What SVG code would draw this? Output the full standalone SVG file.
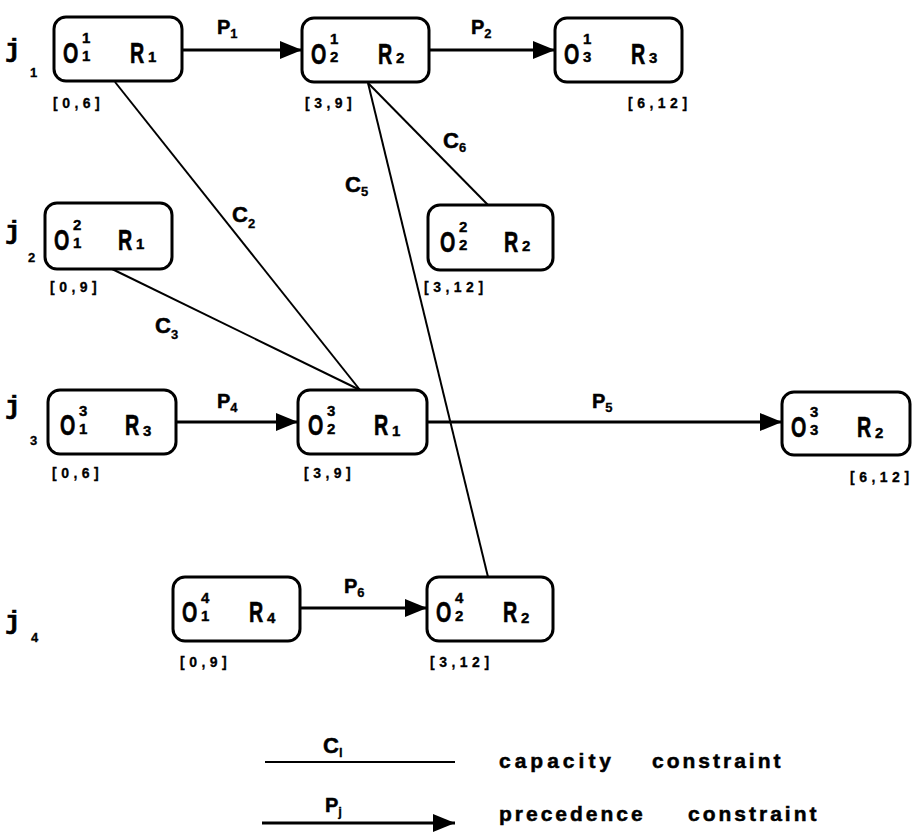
<svg xmlns="http://www.w3.org/2000/svg" width="917" height="833" viewBox="0 0 917 833">
<defs>
<style>
.box{fill:#fff;stroke:#000;stroke-width:3}
.big{font-family:"Liberation Sans",Arial,sans-serif;font-weight:bold;font-size:29px;fill:#000;stroke:#000;stroke-width:0.6}
.sm{font-family:"Liberation Sans",Arial,sans-serif;font-weight:bold;font-size:15px;fill:#000;stroke:#000;stroke-width:0.4}
.iv{font-family:"Liberation Sans",Arial,sans-serif;font-weight:bold;font-size:14px;letter-spacing:4.5px;fill:#000;stroke:#000;stroke-width:0.3}
.jl{font-family:"Liberation Mono","Courier New",monospace;font-weight:bold;font-size:26px;fill:#000;stroke:#000;stroke-width:0.6}
.js{font-family:"Liberation Sans",Arial,sans-serif;font-weight:bold;font-size:13px;fill:#000;stroke:#000;stroke-width:0.3}
.cl{font-family:"Liberation Sans",Arial,sans-serif;font-weight:bold;font-size:22px;fill:#000;stroke:#000;stroke-width:0.5}
.pl{font-family:"Liberation Sans",Arial,sans-serif;font-weight:bold;font-size:20px;fill:#000;stroke:#000;stroke-width:0.5}
.sub{font-size:13px;stroke-width:0.3}
.cap{stroke:#000;stroke-width:2;fill:none}
.pre{stroke:#000;stroke-width:3;fill:none;marker-end:url(#ah)}
.leg{font-family:"Liberation Sans",Arial,sans-serif;font-weight:bold;font-size:21px;letter-spacing:3px;fill:#000;stroke:#000;stroke-width:0.5}
</style>
<marker id="ah" markerUnits="userSpaceOnUse" markerWidth="24" markerHeight="20" refX="22" refY="9" orient="auto">
<path d="M0,0 L22,9 L0,18 z" fill="#000"/>
</marker>
</defs>
<rect width="917" height="833" fill="#fff"/>

<g id="job-labels">
<text class="jl" x="5" y="57">j</text><text class="js" x="30" y="77">1</text>
<text class="jl" x="5" y="239">j</text><text class="js" x="28" y="262">2</text>
<text class="jl" x="5" y="414">j</text><text class="js" x="30" y="445">3</text>
<text class="jl" x="5" y="629">j</text><text class="js" x="31" y="642">4</text>
</g>

<g id="connectors">
<line class="pre" x1="181" y1="50" x2="302" y2="50"/>
<line class="pre" x1="429" y1="50" x2="555" y2="50"/>
<line class="pre" x1="176" y1="422" x2="298" y2="422"/>
<line class="pre" x1="427" y1="422" x2="782" y2="422"/>
<line class="pre" x1="300" y1="608" x2="427" y2="608"/>
<line class="cap" x1="115" y1="82" x2="360" y2="390"/>
<line class="cap" x1="110" y1="268" x2="360" y2="390"/>
<line class="cap" x1="368" y1="83" x2="488" y2="577"/>
<line class="cap" x1="368" y1="83" x2="488" y2="205"/>
<text class="pl" x="217" y="34">P<tspan class="sub" dy="4">1</tspan></text>
<text class="pl" x="471" y="34">P<tspan class="sub" dy="4">2</tspan></text>
<text class="pl" x="217" y="408">P<tspan class="sub" dy="4">4</tspan></text>
<text class="pl" x="592" y="408">P<tspan class="sub" dy="4">5</tspan></text>
<text class="pl" x="344" y="593">P<tspan class="sub" dy="4">6</tspan></text>
<text class="cl" x="232" y="222">C<tspan class="sub" dy="6">2</tspan></text>
<text class="cl" x="155" y="333">C<tspan class="sub" dy="6">3</tspan></text>
<text class="cl" x="345" y="192">C<tspan class="sub" dy="4">5</tspan></text>
<text class="cl" x="443" y="148">C<tspan class="sub" dy="4">6</tspan></text>
</g>

<g id="n-o11" transform="translate(54,17)">
<rect class="box" width="128" height="64" rx="12"/>
<text class="big" transform="translate(9,46) scale(0.68,1)">O</text><text class="sm" x="28" y="26">1</text><text class="sm" x="28" y="44">1</text>
<text class="big" transform="translate(76,46) scale(0.68,1)">R</text><text class="sm" x="94" y="45">1</text>
<text class="iv" x="-1" y="91">[0,6]</text>
</g>
<g id="n-o21" transform="translate(302,18)">
<rect class="box" width="127" height="64" rx="12"/>
<text class="big" transform="translate(9,46) scale(0.68,1)">O</text><text class="sm" x="28" y="26">1</text><text class="sm" x="28" y="44">2</text>
<text class="big" transform="translate(76,46) scale(0.68,1)">R</text><text class="sm" x="94" y="45">2</text>
<text class="iv" x="3" y="90">[3,9]</text>
</g>
<g id="n-o31" transform="translate(555,18)">
<rect class="box" width="127" height="64" rx="12"/>
<text class="big" transform="translate(9,46) scale(0.68,1)">O</text><text class="sm" x="28" y="26">1</text><text class="sm" x="28" y="44">3</text>
<text class="big" transform="translate(76,46) scale(0.68,1)">R</text><text class="sm" x="94" y="45">3</text>
<text class="iv" x="73" y="90">[6,12]</text>
</g>
<g id="n-o12" transform="translate(45,203)">
<rect class="box" width="127" height="66" rx="12"/>
<text class="big" transform="translate(9,47) scale(0.68,1)">O</text><text class="sm" x="28" y="27">2</text><text class="sm" x="28" y="45">1</text>
<text class="big" transform="translate(73,47) scale(0.68,1)">R</text><text class="sm" x="91" y="46">1</text>
<text class="iv" x="5" y="89">[0,9]</text>
</g>
<g id="n-o22" transform="translate(428,205)">
<rect class="box" width="125" height="65" rx="12"/>
<text class="big" transform="translate(12,47) scale(0.68,1)">O</text><text class="sm" x="31" y="27">2</text><text class="sm" x="31" y="45">2</text>
<text class="big" transform="translate(76,47) scale(0.68,1)">R</text><text class="sm" x="94" y="46">2</text>
<text class="iv" x="-4" y="87">[3,12]</text>
</g>
<g id="n-o13" transform="translate(48,390)">
<rect class="box" width="128" height="64" rx="12"/>
<text class="big" transform="translate(12,45) scale(0.68,1)">O</text><text class="sm" x="31" y="26">3</text><text class="sm" x="31" y="44">1</text>
<text class="big" transform="translate(77,45) scale(0.68,1)">R</text><text class="sm" x="95" y="46">3</text>
<text class="iv" x="4" y="88">[0,6]</text>
</g>
<g id="n-o23" transform="translate(298,390)">
<rect class="box" width="129" height="64" rx="12"/>
<text class="big" transform="translate(10,45) scale(0.68,1)">O</text><text class="sm" x="29" y="26">3</text><text class="sm" x="29" y="44">2</text>
<text class="big" transform="translate(76,45) scale(0.68,1)">R</text><text class="sm" x="94" y="46">1</text>
<text class="iv" x="6" y="88">[3,9]</text>
</g>
<g id="n-o33" transform="translate(782,392)">
<rect class="box" width="128" height="63" rx="12"/>
<text class="big" transform="translate(9,45) scale(0.68,1)">O</text><text class="sm" x="28" y="25">3</text><text class="sm" x="28" y="43">3</text>
<text class="big" transform="translate(75,45) scale(0.68,1)">R</text><text class="sm" x="93" y="46">2</text>
<text class="iv" x="68" y="90">[6,12]</text>
</g>
<g id="n-o14" transform="translate(173,577)">
<rect class="box" width="127" height="64" rx="12"/>
<text class="big" transform="translate(9,45) scale(0.68,1)">O</text><text class="sm" x="28" y="26">4</text><text class="sm" x="28" y="44">1</text>
<text class="big" transform="translate(76,45) scale(0.68,1)">R</text><text class="sm" x="94" y="46">4</text>
<text class="iv" x="7" y="90">[0,9]</text>
</g>
<g id="n-o24" transform="translate(427,577)">
<rect class="box" width="126" height="64" rx="12"/>
<text class="big" transform="translate(9,45) scale(0.68,1)">O</text><text class="sm" x="28" y="26">4</text><text class="sm" x="28" y="44">2</text>
<text class="big" transform="translate(76,45) scale(0.68,1)">R</text><text class="sm" x="94" y="46">2</text>
<text class="iv" x="3" y="90">[3,12]</text>
</g>

<g id="legend">
<line class="cap" x1="265" y1="762" x2="455" y2="762"/>
<text class="cl" x="323" y="753">C<tspan class="sub" dy="4">l</tspan></text>
<text class="leg" x="499" y="768" style="letter-spacing:4px">capacity</text>
<text class="leg" x="652" y="768">constraint</text>
<line class="pre" x1="262" y1="823" x2="455" y2="823"/>
<text class="pl" x="325" y="812">P<tspan class="sub" dy="4">j</tspan></text>
<text class="leg" x="499" y="821">precedence</text>
<text class="leg" x="688" y="821">constraint</text>
</g>
</svg>
